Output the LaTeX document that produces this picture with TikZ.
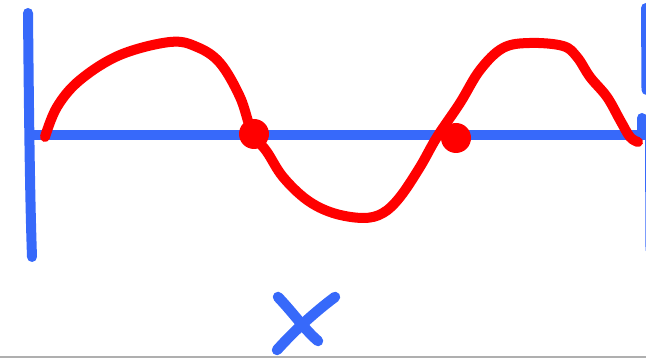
\documentclass[tikz,border=0pt]{standalone}
\begin{document}
\begin{tikzpicture}[x=0.01cm,y=-0.01cm,
  bluepen/.style={draw=penblue,line width=0.1cm,line cap=round,line join=round},
  redpen/.style={draw=red,line width=0.1cm,line cap=round,line join=round},
  dotmark/.style={fill=red,draw=none}]
\definecolor{penblue}{RGB}{55,105,250}
\definecolor{rulegray}{RGB}{175,175,175}
\useasboundingbox (0,0) rectangle (646,362);
\clip (0,0) rectangle (646,362);
% axes
\coordinate (ltop) at (28,13);
\coordinate (lbot) at (32,257);
\draw[bluepen] (ltop) .. controls (29,120) and (30,200) .. (lbot);
\coordinate (hstart) at (33,135);
\coordinate (hend) at (650,135);
\draw[bluepen] (hstart) -- (hend);
\draw[bluepen] (646,8) -- (646.5,90);
\draw[bluepen] (642,118) -- (642,135);
\draw[bluepen,line width=0.06cm] (648,140) -- (648.5,250);
% wave
\draw[redpen] plot[smooth,tension=0.6] coordinates {
 (45,137) (57,107) (80,80) (120,55) (170,42) (197,47) (220,63) (240,97) (252,132)
 (267,152) (283,177) (307,200) (333,213) (363,218) (383,213) (400,197) (420,167) (437,137)
 (460,103) (480,70) (503,48) (530,43) (563,46) (577,57) (590,77) (607,97) (620,120) (630,137) (638,142)};
% intersection dots
\coordinate (d1) at (254,134);
\coordinate (d2) at (456,138);
\fill[dotmark] (d1) circle (15);
\fill[dotmark] (d2) circle (15);
% X label
\draw[bluepen,line width=0.105cm] (278,297) .. controls (295,315) and (305,330) .. (318,341);
\draw[bluepen,line width=0.105cm] (335,297) .. controls (315,312) and (295,330) .. (277,350);
% bottom rule
\draw[rulegray,line width=0.02cm] (0,357) -- (646,357);
\end{tikzpicture}
\end{document}
